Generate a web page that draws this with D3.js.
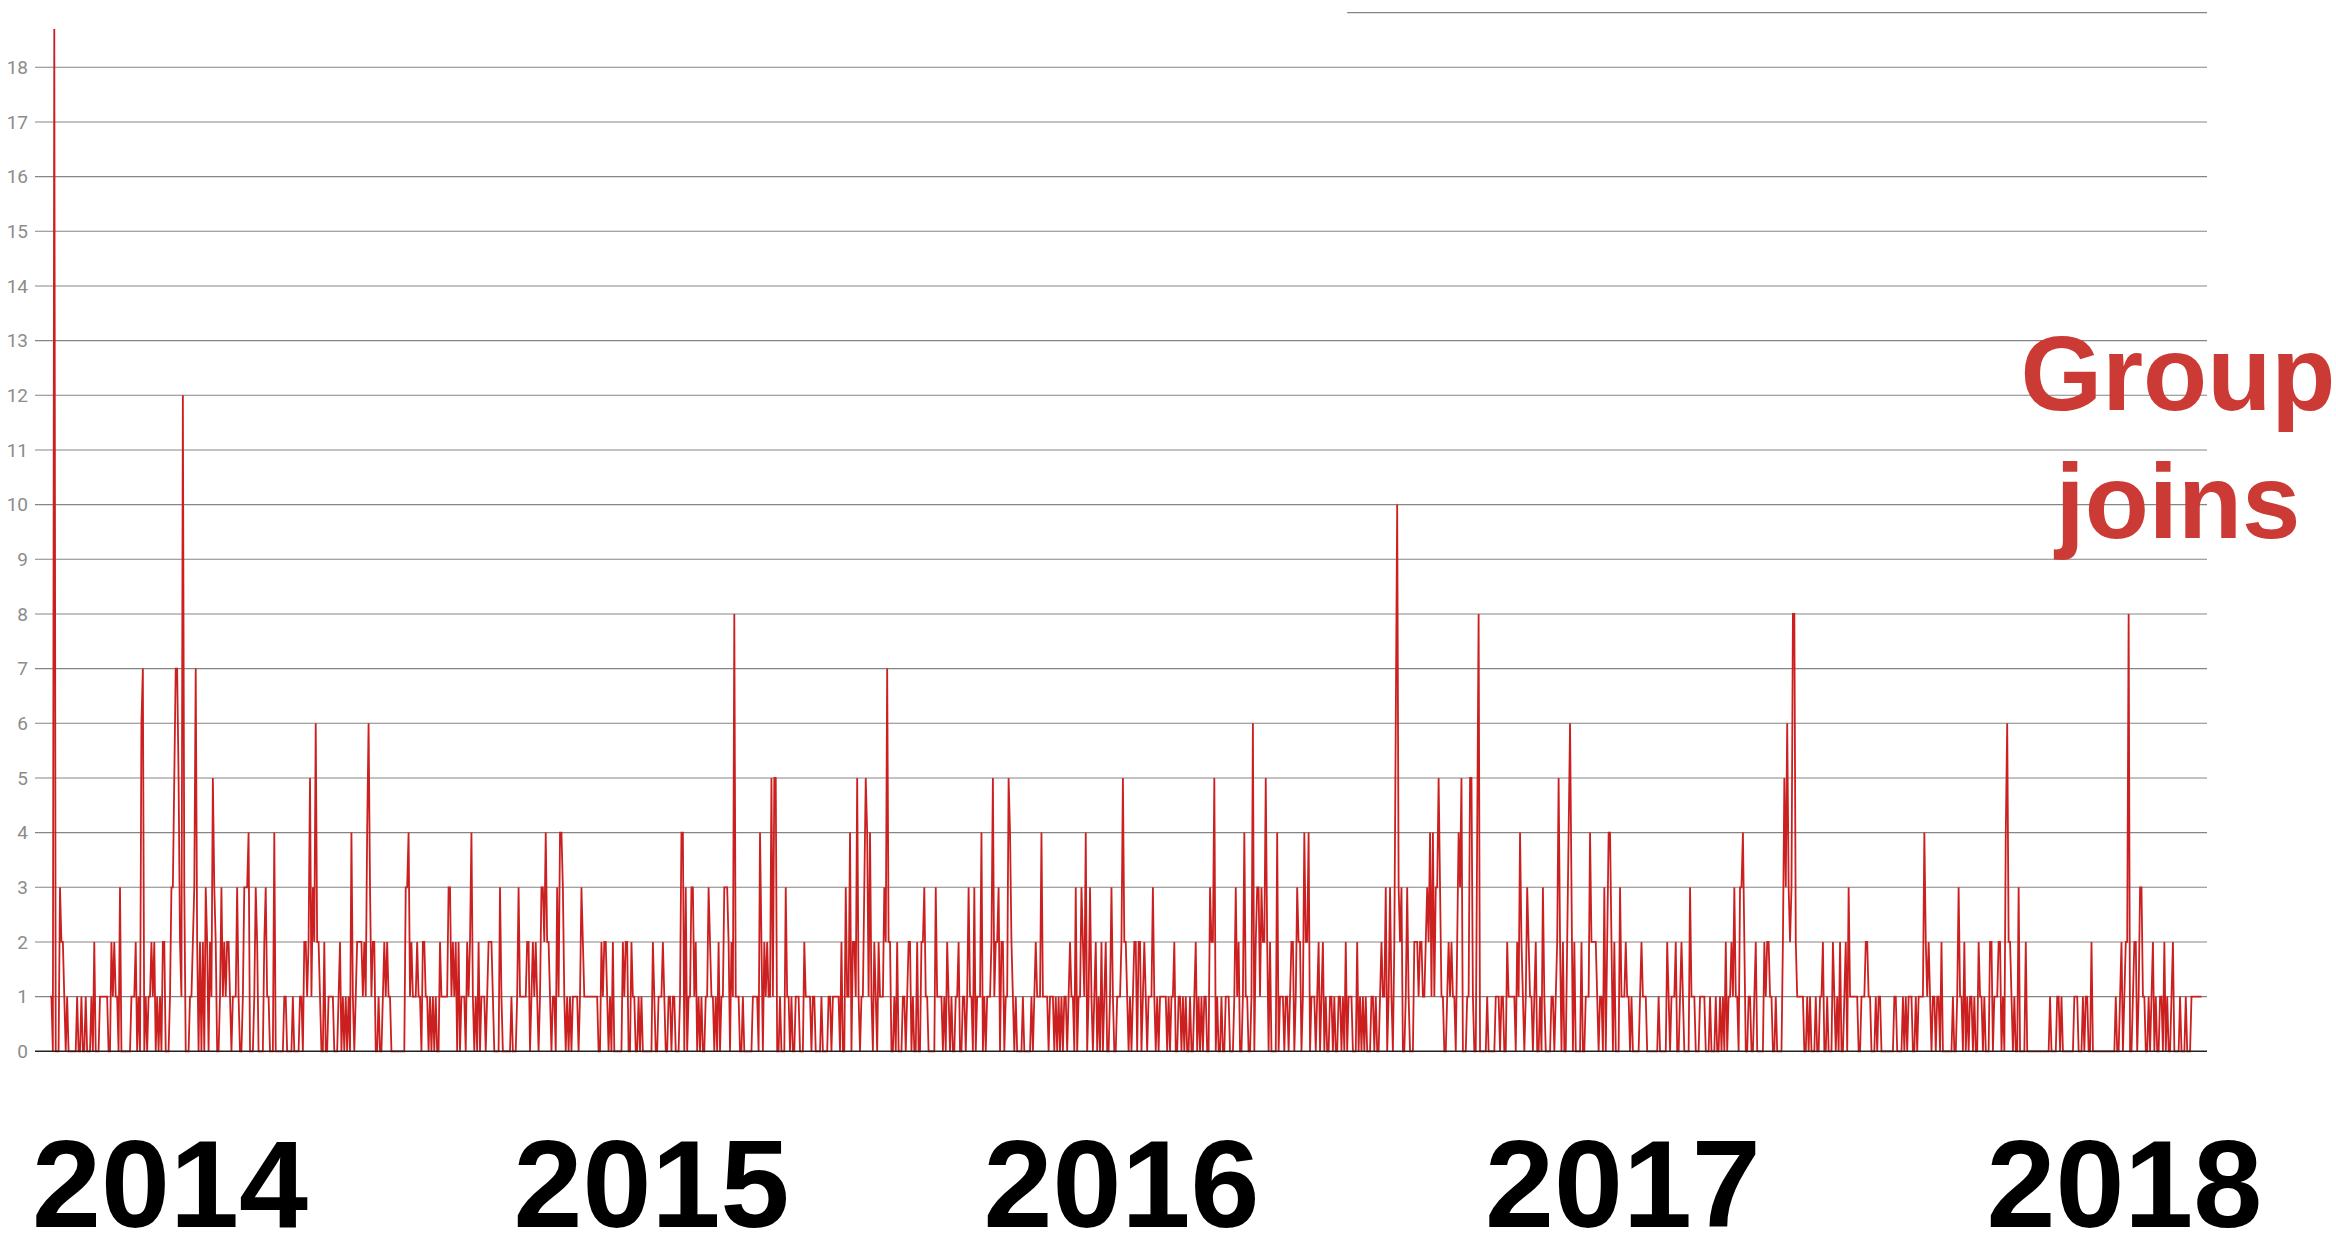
<!DOCTYPE html>
<html>
<head>
<meta charset="utf-8">
<script src="https://cdn.jsdelivr.net/npm/d3@7"></script>
<style>
  html, body { margin: 0; padding: 0; background: #fff; }
  svg { display: block; }
</style>
</head>
<body>
<svg id="chart"></svg>
<script>
// daily group joins in consecutive stretches
const joinsPart1 = [1,1,0,18.7,0,0,0,3,2,2, 1,0,1,0,0,0,0,0,0,1, 0,0,1,0,0,1,0,0,0,1, 0,2,0,0,0,1,1,1,1,1,
  1,0,0,2,1,2,1,1,0,3, 0,0,0,0,0,0,0,1,1,1, 2,0,1,0,6,7,0,1,0,1, 1,2,1,2,0,1,0,1,0,2, 2,0,0,0,1,3,3,5,7,7,
  5,2,1,12,3,0,0,0,1,1, 2,3,7,2,0,2,0,2,0,3, 2,0,2,1,5,3,2,0,0,1, 3,1,2,1,2,2];
const joinsPart2 = [1,0,1,1,1,3,1,0,0,1, 3,3,3,4,0,0,0,1,3,2, 0,0,0,0,2,3,1,1,0,0, 0,4,0,0,0,0,0,0,1,1,
  0,0,0,0,1,0,0,0,0,1, 1,0,2,2,1,2,5,1,3,2, 6,2,2,1,0,0,2,0,0,1, 1,1,1,0,0,0,1,2,0,1, 0,1,0,1,0,4,1,0,1,2,
  2,2,2,1,2,1,4,6,3,1, 2,2,0,0,1,0,0,1,2,1, 2,1,1,0,0,0,0,0,0,0, 0,0,0,3,3,4,1,2,1,1, 1,2,1];
const joinsPart3 = [1,0,2,2,1,1,0,1,0,1, 0,1,0,0,2,1,1,1,1,1, 3,3,1,2,1,2,0,2,0,1, 1,1,0,2,1,2,4,1,0,1,
  0,2,0,1,1,1,0,1,2,2, 2,1,0,0,0,0,3,1,0,0, 0,0,0,0,1,0,0,0,1,3, 1,1,1,1,1,2,2,0,1,2, 1,2,1,0,1,3,3,2,4,2,
  2,1,0,1,1,0,3,1,4,4, 3,1,0,1,0,1,0,1,1,1, 1,0,1,3,2,1,1,1,1,1, 1,1,1,1,1,0,0,2,1,2, 2,1,0];
const joinsPart4 = [1,0,2,0,0,0,0,0,0,2, 1,2,2,0,0,2,1,1,0,0, 1,0,1,0,0,0,0,0,0,0, 2,1,0,0,1,1,1,2,1,0,
  0,1,1,0,1,1,0,0,0,1, 4,4,0,3,0,1,1,3,3,1, 2,0,1,0,1,0,0,1,1,3, 2,1,1,0,1,0,2,0,1,1, 3,3,3,2,0,2,1,8,1,1,
  1,0,0,1,0,0,0,0,0,0, 1,1,1,1,0,4,2,0,2,1, 2,1,1,5,1,5,5,0,0,1, 0,0,0,3,1,1,0,1,0,0, 1,1,1];
const joinsPart5 = [0,0,0,2,1,1,1,1,0,1, 1,0,0,0,0,1,0,0,0,0, 1,1,0,1,1,1,1,1,0,2, 0,0,3,1,1,4,0,2,2,1,
  5,1,0,1,1,3,5,4,1,4, 1,0,2,1,0,2,1,1,1,3, 2,7,2,2,0,0,1,0,2,0, 0,0,1,1,0,1,2,2,0,1, 0,0,2,0,0,2,2,3,1,1,
  0,0,0,0,0,3,1,1,1,1, 0,1,0,2,1,0,1,0,0,1, 1,2,0,0,1,1,0,1,3,1, 1,0,3,0,1,1,1,4,0,1, 0,1,1];
const joinsPart6 = [1,2,5,1,2,2,3,0,2,2, 0,1,1,5,4,2,1,0,1,0, 0,0,0,1,0,0,0,0,0,1, 0,1,2,1,1,1,4,1,1,1,
  1,0,1,1,1,0,1,0,1,0, 1,0,1,1,0,1,2,1,1,0, 3,0,1,1,3,2,1,4,0,1, 3,1,0,1,2,0,1,0,2,0, 1,2,0,0,1,3,1,0,0,1,
  1,1,2,5,2,2,1,0,1,0, 1,2,2,0,2,2,0,1,2,1, 0,1,1,1,3,1,0,1,0,1, 1,1,1,1,0,1,0,1,1,2, 0,0,1];
const joinsPart7 = [1,0,1,0,1,0,0,1,0,0, 1,2,0,1,0,1,0,1,1,0, 0,3,2,2,5,0,1,0,0,1, 0,0,1,1,1,0,0,0,1,3,
  1,2,0,0,1,4,1,1,0,0, 1,6,0,2,3,3,1,3,2,2, 5,2,0,2,0,0,0,0,4,0, 1,1,1,0,1,1,0,1,2,2, 0,1,3,2,2,0,1,4,2,2,
  4,0,1,1,1,0,1,2,0,1, 2,0,1,0,0,1,1,0,1,0, 0,1,1,0,1,0,2,0,1,1, 1,0,0,0,2,0,1,0,1,0, 1,0,0];
const joinsPart8 = [0,1,1,0,1,0,0,1,2,1, 1,3,0,1,3,1,0,2,6,10, 3,2,3,0,0,1,3,1,0,0, 0,2,2,2,1,2,2,1,1,2,
  3,2,4,1,4,1,3,3,5,3, 1,1,0,0,1,2,1,2,1,1, 0,2,4,3,5,0,0,0,1,1, 5,5,1,0,0,4,8,0,0,0, 0,0,1,0,0,0,0,0,1,1,
  1,0,1,1,0,0,2,1,1,1, 1,1,0,2,1,4,2,1,0,1, 3,2,1,1,0,1,2,0,0,1, 0,3,1,0,0,0,0,1,1,0, 1,2,5];
const joinsPart9 = [2,0,2,0,0,2,4,6,3,0, 2,0,0,0,0,2,0,0,1,1, 1,4,2,2,2,2,1,0,1,1, 0,3,0,2,4,4,2,0,2,0,
  0,0,3,1,1,1,2,1,1,0, 1,0,0,0,0,0,1,2,1,1, 1,0,0,0,0,0,0,0,0,1, 0,0,0,0,0,2,1,0,1,1, 1,2,0,0,1,2,1,0,0,0,
  0,3,1,1,1,0,0,0,1,1, 1,1,0,0,0,1,0,0,0,1, 0,0,1,0,1,0,2,0,1,1, 2,1,3,1,1,0,3,3,4,2, 0,0,1];
const joinsPart10 = [1,0,0,1,2,0,0,0,0,0, 2,1,2,2,1,1,0,0,1,0, 0,0,0,2,5,3,6,3,2,3, 8,8,2,1,1,1,1,1,0,0,
  1,0,1,0,0,0,1,0,0,1, 1,2,0,0,1,0,0,0,2,1, 0,1,0,2,0,0,1,2,0,3, 1,1,1,1,1,1,0,0,1,1, 1,2,2,1,1,0,0,0,1,0,
  1,1,0,0,0,0,0,0,0,0, 0,1,1,0,0,0,0,1,0,1, 0,1,1,1,0,0,1,0,1,1, 1,1,4,2,1,2,1,0,1,1, 0,1,1];
const joinsPart11 = [0,2,0,0,0,0,0,0,0,1, 0,0,1,3,1,1,0,2,0,1, 0,1,1,0,1,0,0,2,1,1, 0,1,0,0,0,2,2,0,1,1,
  1,2,2,0,1,0,4,6,2,2, 1,0,1,0,0,3,0,0,0,0, 2,0,0,0,0,0,0,0,0,0, 0,0,0,0,0,0,0,1,0,0, 0,0,1,1,0,1,0,0,0,0,
  0,0,0,0,1,1,1,0,0,0, 1,0,1,1,0,0,2,0,0,0, 0,0,0,0,0,0,0,0,0,0, 0,0,0,1,0,0,1,2,0,1, 2,2,8,0,0,1,2,2,0,1,
  3,3,1,1,0,0,1,0,1,2, 0,1,0,0,1,1,0,2,0,1, 0,0,1,2,0,0,0,0,1,0, 0,0,1,0,0,0,1,1,1,1, 1,1,1,1];

const yearLabels = ['2014', '2015', '2016', '2017', '2018'];
const yearIndex = [84, 421, 750, 1101, 1452];   // day index under each year label
const yTicks = d3.range(0, 19);
const topRuleFrom = 908;                           // the 19 rule only shows from here on
const titleLines = ['Group', 'joins'];

const joins = [].concat(joinsPart1, joinsPart2, joinsPart3, joinsPart4, joinsPart5, joinsPart6,
  joinsPart7, joinsPart8, joinsPart9, joinsPart10, joinsPart11);

const width = 2336, height = 1240;
const gridLeft = 35, gridRight = 2207;

const svg = d3.select('#chart')
  .attr('width', width)
  .attr('height', height);

const x = d3.scaleLinear().domain([0, joins.length - 1]).range([50, 2201.5]);
const y = d3.scaleLinear().domain([0, 19]).range([1051.3, 12.6]);

// gridlines
svg.append('g')
  .selectAll('line')
  .data(yTicks.filter(d => d > 0))
  .enter()
  .append('line')
  .attr('x1', gridLeft)
  .attr('x2', gridRight)
  .attr('y1', d => y(d))
  .attr('y2', d => y(d))
  .attr('stroke', '#858585')
  .attr('stroke-width', 1.1);

svg.append('line')
  .attr('x1', x(topRuleFrom))
  .attr('x2', gridRight)
  .attr('y1', y(19))
  .attr('y2', y(19))
  .attr('stroke', '#858585')
  .attr('stroke-width', 1.1);

// y labels
svg.append('g')
  .selectAll('text')
  .data(yTicks)
  .enter()
  .append('text')
  .attr('x', 28)
  .attr('y', d => y(d))
  .attr('dy', '0.36em')
  .attr('text-anchor', 'end')
  .style('font-family', 'Roboto, sans-serif')
  .style('font-size', '19px')
  .style('fill', '#8c8c8c')
  .text(d => d);

// the series
const line = d3.line()
  .x((d, i) => x(i))
  .y(d => y(d));

svg.append('path')
  .datum(joins)
  .attr('d', line)
  .attr('fill', 'none')
  .attr('stroke', '#cc2020')
  .attr('stroke-width', 1.8);

// zero line on top
svg.append('line')
  .attr('x1', gridLeft)
  .attr('x2', gridRight)
  .attr('y1', y(0))
  .attr('y2', y(0))
  .attr('stroke', '#222')
  .attr('stroke-width', 1.4);

// year labels
svg.append('g')
  .selectAll('text')
  .data(yearLabels)
  .enter()
  .append('text')
  .attr('x', (d, i) => x(yearIndex[i]))
  .attr('y', 1227)
  .attr('text-anchor', 'middle')
  .style('font-family', '"Liberation Sans", Arial, sans-serif')
  .style('font-weight', 'bold')
  .style('font-size', '124px')
  .style('fill', '#000')
  .text(d => d);

// title
svg.append('g')
  .selectAll('text')
  .data(titleLines)
  .enter()
  .append('text')
  .attr('x', 2178)
  .attr('y', (d, i) => 410 + i * 128)
  .attr('text-anchor', 'middle')
  .style('font-family', '"Liberation Sans", Arial, sans-serif')
  .style('font-weight', 'bold')
  .style('font-size', '105px')
  .style('fill', '#cc3a35')
  .text(d => d);
</script>
</body>
</html>
